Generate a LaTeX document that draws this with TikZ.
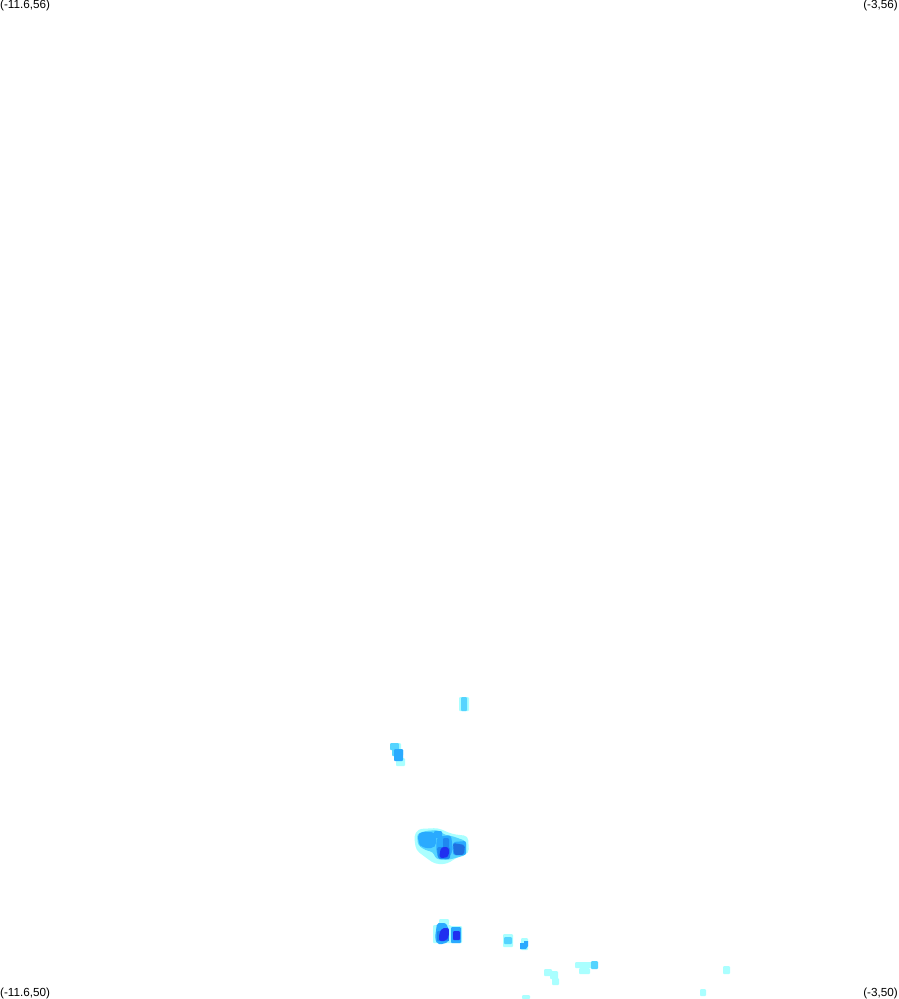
\documentclass[tikz,border=0pt]{standalone}
\usepackage{fontspec}
\setmainfont{Liberation Sans}
\definecolor{cA}{HTML}{AAFFFF}
\definecolor{cB}{HTML}{55D4FF}
\definecolor{cC}{HTML}{2AAAFF}
\definecolor{cD}{HTML}{1F88F0}
\definecolor{cE}{HTML}{2070E0}
\definecolor{cF}{HTML}{2030F0}
\newcommand{\Rc}[5]{\fill[#1,rounded corners=1pt] (#2,#3) rectangle (#4,#5);}
\tikzset{corner/.style={inner sep=0pt,font=\fontsize{11.7}{12}\selectfont,text=black}}
\begin{document}
\begin{tikzpicture}[x=1pt,y=-1pt]
\useasboundingbox (0,0) rectangle (899,999);
\fill[white] (0,0) rectangle (899,999);
% upper pair
\Rc{cA}{459}{697}{469}{711}
\Rc{cB}{461}{697}{467}{711}
\Rc{cA}{392}{743}{401}{752}
\Rc{cA}{396}{758}{405}{766}
\Rc{cB}{390}{743}{399}{750}
\Rc{cB}{392}{749}{403}{756}
\Rc{cC}{394}{749}{403}{761}
% central cluster
\fill[cA,rounded corners=4pt] (414,836)--(418,829)--(438,828)--(452,834)--(468,836)--(469,853)--(456,858)--(447,864)--(435,864)--(425,857)--(416,850)--cycle;
\fill[cB,rounded corners=3pt] (417,834)--(425,831)--(438,830)--(445,835)--(452,836)--(466,841)--(466,855)--(452,859)--(446,860)--(436,859)--(433,852)--(425,850)--(418,845)--cycle;
\fill[cC,rounded corners=5pt] (418,832)--(436,832)--(436,848)--(422,848)--(418,842)--cycle;
\Rc{cC}{434}{831}{442}{838}
\fill[cC,rounded corners=3pt] (437,837)--(451,835)--(453,850)--(449,858)--(438,858)--(436,848)--cycle;
\fill[cC,rounded corners=2pt] (453,842)--(466,841)--(466,855)--(453,855)--cycle;
\Rc{cD}{443}{838}{449}{848}
\fill[cD,rounded corners=2pt] (437,847)--(450,847)--(450,859)--(438,859)--cycle;
\fill[cE,rounded corners=2pt] (453,843)--(465,845)--(464,855)--(454,855)--cycle;
\fill[cF,rounded corners=3pt] (441,847)--(449,847)--(449,856)--(445,858)--(439,858)--cycle;
% lower pair
\Rc{cA}{439}{919}{449}{925}
\Rc{cA}{433}{925}{451}{943}
\Rc{cB}{438}{923}{446}{930}
\fill[cC,rounded corners=2pt] (437,923)--(446,923)--(449,930)--(449,941)--(444,944)--(437,944)--(435,938)--cycle;
\Rc{cD}{437}{931}{450}{941}
\fill[cF,rounded corners=2pt] (442,928)--(449,928)--(449,936)--(446,941)--(439,941)--(439,934)--cycle;
\Rc{cA}{449}{926}{462}{943}
\Rc{cC}{451}{927}{461}{943}
\Rc{cF}{453}{931}{460}{940}
% small right blocks
\Rc{cA}{503}{934}{513}{947}
\Rc{cB}{504}{937}{512}{944}
\Rc{cA}{521}{938}{528}{950}
\fill[cC] (520,943)--(524,943)--(524,941)--(528,941)--(528,946)--(526,949)--(520,949)--cycle;
% lower tail
\Rc{cA}{544}{969}{552}{976}
\Rc{cA}{550}{971}{558}{979}
\Rc{cA}{552}{978}{559}{985}
\Rc{cA}{575}{962}{597}{968}
\Rc{cA}{579}{968}{590}{974}
\Rc{cB}{591}{961}{598}{969}
\Rc{cA}{522}{995}{530}{999}
\Rc{cA}{723}{966}{730}{974}
\Rc{cA}{700}{989}{706}{996}
% corner labels
\node[corner,anchor=north west] (tl) at (0,0) {(-11.6,56)};
\node[corner,anchor=north east] (tr) at (898,0) {(-3,56)};
\node[corner,anchor=south west] (bl) at (0,999) {(-11.6,50)};
\node[corner,anchor=south east] (br) at (898,999) {(-3,50)};
\end{tikzpicture}
\end{document}
